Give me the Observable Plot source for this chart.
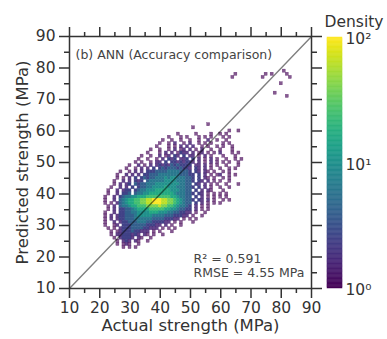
<!DOCTYPE html>
<html>
<head>
<meta charset="utf-8">
<script src="https://cdn.jsdelivr.net/npm/d3@7"></script>
<script src="https://cdn.jsdelivr.net/npm/@observablehq/plot@0.6"></script>
<style>
  html, body { margin: 0; padding: 0; background: #fff; }
  #chart { position: relative; width: 387px; height: 339px; font-family: "DejaVu Sans", sans-serif; }
  #chart svg { position: absolute; top: 0; }
</style>
</head>
<body>
<div id="chart"></div>
<script>
// ---- data ----
const majorTicks = [10, 20, 30, 40, 50, 60, 70, 80, 90];
const minorTicks = [15, 25, 35, 45, 55, 65, 75, 85];
const colorbarTicks = [1, 10, 100];
const colorbarLabels = ["10\u2070", "10\u00b9", "10\u00b2"];
const identityLine = [10, 90];

// density level code -> density value
const levelDensity = {"1": 1, "2": 1.6, "3": 2.5, "4": 4, "5": 6.3, "6": 10, "7": 16, "8": 25, "9": 40, "a": 63, "b": 100};

// grid of 1 MPa cells, first column = 20 MPa actual strength
const gridX0 = 20;
const rowY = [62, 61, 60, 59, 58, 57, 56, 55, 54, 53, 52, 51, 50, 49, 48, 47, 46, 45, 44, 43, 42, 41, 40,
              39, 38, 37, 36, 35, 34, 33, 32, 31, 30, 29, 28, 27, 26, 25, 24, 23];
const rowCells = [
  ".......... .......... .......... ......1... ..........",
  ".......... .......... .......... .1........ ..........",
  ".......... .......... .......... .......... ...1..1...",
  ".......... .......... ......1... ..1....1.. 1.1.......",
  ".......... .......... ...1...1.1 ...1.1.1.. .1.1......",
  ".......... .......... .1..1..1.. 1..1..2..1 ..1.......",
  ".......... .......... 1..1.2..1. 2..1.1.1.. .1.1......",
  ".......... .........1 ...1.1.2.2 .2..1.1..1 .1..1.....",
  ".......... .......1.. 1..1.2.12. 2.1.2..1.. 1...1.....",
  ".......... ......1... 1.2.2.1322 .2.12.1.1. 2...1.1...",
  ".......... ....1..1.. 2.12.32.3. 22.1.2.1.. .1...1....",
  ".......... ...1..1..1 .2.323.223 .3.2.1.2.1 ..1..1.1..",
  ".......... ..1.1..1.2 2.3.332323 32.2.1.2.1 .1.1..1...",
  ".......... 1..2.1.2.2 3232434333 3.22.2.1.1 ..1...1...",
  ".........1 ..1.2.2.3. 3434443433 2.32.2.1.. 1..1.1....",
  ".......1.. 1.2.2.3334 4445555444 3.32.21.1. .1.1......",
  "......1..2 .2.2.33444 5555555444 33.3.2.1.1 2..1.1....",
  "......1.1. 2.3.343445 5565665554 43.3.21.1. .1.1......",
  ".....1..2. 2.323.4555 5566665554 43.32.2.1. 1..1......",
  ".....1.2.2 3.43445556 6666666554 4.32.2.1.1 ..1...1...",
  "....1..2.2 .3.3445566 6676665554 43.3.2.1.. 1..1......",
  "...1..2.23 3.34556667 7777666554 4.3.2.21.. .1........",
  "...1..2.33 4.45566777 7777765554 43.32.1.1. 1.1.......",
  "..1..2.345 5667778888 8888776554 4.3.2.1.1. 1.1.......",
  "..1..2.456 778899aabb baa9987654 43.32.2.1. .1.1......",
  "..1.1.2456 778899aabb baa9987654 4.3.2.1.1. 1.........",
  "...1.2.455 6778889999 a998876554 3.2.1.1... ..........",
  "...1.2.334 4567777888 8877665443 3.2.1.1... ..........",
  "..1..2.334 4556666777 6665544332 2.1..1.... ..........",
  "..1.2.2334 4456666655 5544433322 .1..1..... ..........",
  "..1.2.2334 4455555544 4433322.1. 1.1....... ..........",
  "..1..2.233 4445554433 3322.1.1.. .1........ ..........",
  "..1..12.33 3444443332 2.2.1..1.. .......... ..........",
  "...1.1.233 3444433222 .1.1.1.... .......... ..........",
  "....1.1233 3433222.1. 1...1..... .......... ..........",
  "....1.2233 3232.21.1. .1........ .......... ..........",
  ".....1.233 32.21..1.. .......... .......... ..........",
  "......1.23 2.21..1... .......... .......... ..........",
  "......1.12 1..1...... .......... .......... ..........",
  "........1. 1.1....... .......... .......... .........."
];

// isolated points in the upper right
const outX = [64, 65, 74, 75, 77, 81, 82, 83, 80, 78, 82];
const outY = [77, 78, 77, 78, 78, 79, 78, 77, 75, 72, 71];

// ---- build cells ----
const cells = [];
rowY.forEach((y, j) => {
  const s = rowCells[j].replace(/ /g, "");
  if (s.length !== 50) throw new Error("row " + y + " has length " + s.length);
  [...s].forEach((c, i) => {
    if (c !== ".") cells.push({x: gridX0 + i, y, density: levelDensity[c]});
  });
});
outX.forEach((x, i) => cells.push({x, y: outY[i], density: 1}));

const ink = "#333";
const colorOpts = {type: "log", scheme: "viridis", domain: [1, 100]};
const faint = d => d.density < 1.5 ? 0.65 : d.density < 2 ? 0.85 : 1;

const main = Plot.plot({
  width: 387, height: 339,
  marginLeft: 69, marginRight: 76, marginTop: 36, marginBottom: 51,
  x: {domain: [10, 90]},
  y: {domain: [10, 90]},
  color: colorOpts,
  style: {fontFamily: "DejaVu Sans", fontSize: "15.5px", color: ink, background: "transparent", overflow: "visible"},
  marks: [
    Plot.rect(cells, {
      x1: d => d.x - 0.5, x2: d => d.x + 0.5,
      y1: d => d.y - 0.5, y2: d => d.y + 0.5,
      fill: "density", stroke: "density", strokeWidth: 0.4,
      fillOpacity: faint, strokeOpacity: faint
    }),
    Plot.line(identityLine, {x: d => d, y: d => d, stroke: "#000", strokeOpacity: 0.5, strokeWidth: 1.4}),
    Plot.frame({stroke: ink, strokeWidth: 1.5}),
    Plot.axisX(majorTicks, {anchor: "bottom", tickSize: 10, tickPadding: 3, strokeWidth: 1.5, stroke: ink, fill: ink, label: null, fontSize: 15.5}),
    Plot.axisX(minorTicks, {anchor: "bottom", tickSize: 5, strokeWidth: 1.5, stroke: ink, tickFormat: () => "", label: null}),
    Plot.axisX(majorTicks, {anchor: "top", tickSize: 10, strokeWidth: 1.5, stroke: ink, tickFormat: () => "", label: null}),
    Plot.axisX(minorTicks, {anchor: "top", tickSize: 5, strokeWidth: 1.5, stroke: ink, tickFormat: () => "", label: null}),
    Plot.axisY(majorTicks, {anchor: "left", tickSize: 10, tickPadding: 4, strokeWidth: 1.5, stroke: ink, fill: ink, label: null, fontSize: 15.5}),
    Plot.axisY(minorTicks, {anchor: "left", tickSize: 5, strokeWidth: 1.5, stroke: ink, tickFormat: () => "", label: null}),
    Plot.axisY(majorTicks, {anchor: "right", tickSize: 10, strokeWidth: 1.5, stroke: ink, tickFormat: () => "", label: null}),
    Plot.axisY(minorTicks, {anchor: "right", tickSize: 5, strokeWidth: 1.5, stroke: ink, tickFormat: () => "", label: null}),
    Plot.text(["Actual strength (MPa)"], {frameAnchor: "bottom", dy: 42, textAnchor: "middle", fontSize: 16.5, fill: ink}),
    Plot.text(["Predicted strength (MPa)"], {frameAnchor: "left", dx: -47, rotate: -90, textAnchor: "middle", fontSize: 16.5, fill: ink}),
    Plot.text(["(b) ANN (Accuracy comparison)"], {frameAnchor: "top-left", dx: 6, dy: 14, textAnchor: "start", fontSize: 12.5, fill: "#444"}),
    Plot.text(["R\u00b2 = 0.591"], {frameAnchor: "bottom-left", dx: 124, dy: -26, textAnchor: "start", fontSize: 12.5, fill: "#444"}),
    Plot.text(["RMSE = 4.55 MPa"], {frameAnchor: "bottom-left", dx: 124, dy: -12, textAnchor: "start", fontSize: 12.5, fill: "#444"})
  ]
});
main.style.left = "0px";

// colorbar ramp (legend)
const cbStops = d3.range(0, 200).map(i => [Math.pow(10, i / 100), Math.pow(10, (i + 1) / 100)]);
const cb = Plot.plot({
  width: 60, height: 339,
  marginLeft: 0, marginRight: 45, marginTop: 37, marginBottom: 51,
  x: {domain: [0, 1], axis: null},
  y: {type: "log", domain: [1, 100], axis: null},
  color: colorOpts,
  style: {fontFamily: "DejaVu Sans", fontSize: "15.5px", color: ink, background: "transparent", overflow: "visible"},
  marks: [
    Plot.rect(cbStops, {x1: 0, x2: 1, y1: d => d[0], y2: d => d[1], fill: d => Math.sqrt(d[0] * d[1]), stroke: d => Math.sqrt(d[0] * d[1]), strokeWidth: 0.5}),
    Plot.axisY(colorbarTicks, {anchor: "right", tickSize: 0, tickPadding: 3, dy: 2, label: null, fill: ink, fontSize: 15.5,
      tickFormat: d => colorbarLabels[colorbarTicks.indexOf(d)]}),
    Plot.text(["Density"], {frameAnchor: "top", dx: 19, dy: -22, fontSize: 15.5, fill: ink})
  ]
});
cb.style.left = "327px";

const chart = document.getElementById("chart");
chart.appendChild(main);
chart.appendChild(cb);
</script>
</body>
</html>
